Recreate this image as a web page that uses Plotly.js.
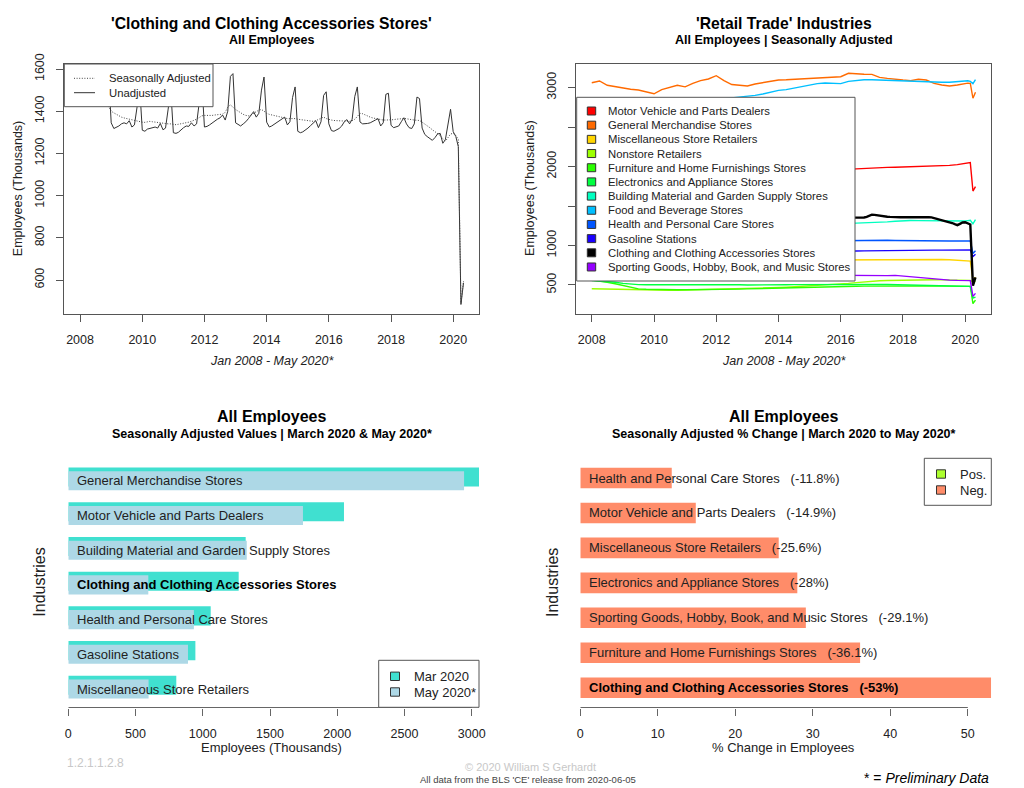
<!DOCTYPE html>
<html><head><meta charset="utf-8">
<script src="https://cdn.plot.ly/plotly-3.0.1.min.js"></script>
<style>html,body{margin:0;padding:0;background:#fff;}#chart{width:1024px;height:788px;}</style>
</head><body><div id="chart"></div>
<script>
// ---------- DATA ----------
// Top-left: Clothing and Clothing Accessories Stores, monthly Jan 2008 - May 2020 (thousands)
const clothingSA = [
1505,1503,1500,1497,1494,1490,1485,1478,1468,1455,1438,1422,
1400,1392,1385,1378,1372,1368,1365,1362,1358,1355,1352,1350,
1348,1347,1350,1352,1350,1348,1346,1345,1343,1342,1340,1340,
1338,1336,1338,1340,1342,1345,1348,1352,1356,1362,1370,1378,
1380,1380,1378,1380,1382,1383,1384,1386,1395,1420,1430,1418,
1408,1400,1392,1385,1380,1378,1382,1392,1398,1405,1408,1400,
1390,1385,1382,1380,1378,1375,1372,1368,1365,1365,1366,1365,
1362,1360,1358,1355,1353,1352,1352,1355,1360,1368,1372,1365,
1360,1358,1356,1355,1354,1353,1353,1352,1352,1355,1362,1375,
1390,1388,1382,1378,1372,1368,1365,1363,1360,1358,1358,1358,
1360,1360,1362,1362,1364,1366,1365,1363,1360,1358,1358,1356,
1348,1340,1332,1322,1312,1302,1295,1285,1270,1258,1275,1292,
1295,1285,1267,492,595];
const clothingNSA = [
1450,1442,1462,1472,1478,1480,1470,1488,1432,1436,1490,1570,
1345,1318,1322,1330,1340,1345,1340,1355,1325,1335,1420,1515,
1310,1305,1315,1318,1322,1325,1320,1342,1312,1320,1410,1505,
1298,1295,1300,1312,1322,1330,1328,1345,1330,1340,1440,1540,
1325,1328,1335,1345,1355,1362,1368,1382,1358,1400,1565,1578,
1345,1335,1330,1340,1350,1365,1380,1398,1372,1390,1500,1562,
1348,1325,1330,1338,1345,1355,1360,1372,1335,1350,1465,1515,
1305,1298,1302,1310,1320,1332,1342,1355,1322,1350,1475,1492,
1340,1308,1305,1310,1318,1330,1350,1360,1340,1362,1470,1515,
1349,1340,1340,1342,1345,1350,1358,1365,1330,1345,1480,1485,
1333,1322,1325,1330,1350,1369,1340,1322,1318,1340,1467,1460,
1320,1290,1280,1270,1262,1275,1292,1295,1248,1265,1350,1409,
1303,1280,1232,484,587];

// Top-right: retail trade industries, quarterly 2008-2019 then monthly Jan-May 2020
const retailIndustries = ['Motor Vehicle and Parts Dealers','General Merchandise Stores','Miscellaneous Store Retailers','Nonstore Retailers','Furniture and Home Furnishings Stores','Electronics and Appliance Stores','Building Material and Garden Supply Stores','Food and Beverage Stores','Health and Personal Care Stores','Gasoline Stations','Clothing and Clothing Accessories Stores','Sporting Goods, Hobby, Book, and Music Stores'];
const retailColors = ['#ff0000','#ff6a00','#ffd500','#9cff00','#2bff00','#00ff40','#00ffc0','#00bfff','#0055ff','#1a00ff','#000000','#9500ff'];
const motorVehicle = [1880,1860,1830,1780,1720,1670,1650,1640,1630,1640,1650,1660,1675,1690,1705,1715,1730,1745,1760,1775,1790,1805,1820,1840,1855,1870,1885,1900,1915,1930,1945,1955,1962,1968,1975,1980,1985,1988,1990,1992,1995,1998,2000,2002,2005,2010,2015,2025,2045,2052,2050,1690,1745];
const generalMerch = [3063,3085,3030,3010,2992,2980,2971,2950,2923,2975,3000,3030,3010,3055,3089,3110,3152,3090,3040,3030,3021,3047,3063,3080,3097,3100,3106,3112,3118,3125,3131,3135,3139,3182,3173,3170,3169,3131,3118,3105,3097,3089,3106,3097,3055,3034,3021,3034,3055,3058,3054,2866,2943];
const miscStore = [850,845,838,830,815,805,798,795,792,790,790,790,790,792,794,795,796,797,798,800,802,804,806,808,810,812,813,814,815,816,817,818,819,820,820,821,822,823,824,825,826,827,827,826,825,823,820,816,812,808,803,560,597];
const nonstore = [452,450,448,445,440,436,433,432,432,432,433,434,436,438,440,442,444,446,448,451,454,457,460,464,468,472,477,482,487,492,498,505,512,520,530,540,548,553,557,560,562,564,565,566,566,565,564,563,562,561,558,540,545];
const furniture = [562,550,535,515,490,465,450,445,442,440,440,440,440,440,441,442,443,444,446,448,450,453,456,459,462,465,468,470,472,474,476,478,480,482,484,486,487,488,489,490,490,490,489,488,487,485,484,483,483,482,482,265,308];
const electronics = [556,552,545,535,520,510,505,503,503,504,505,506,508,510,510,509,508,506,504,502,500,499,499,500,502,503,505,506,507,508,509,510,511,512,512,511,510,508,506,504,502,500,498,496,494,492,490,488,486,485,482,335,347];
const buildingMat = [1260,1245,1225,1200,1170,1150,1140,1135,1135,1140,1140,1142,1145,1148,1150,1152,1155,1160,1165,1170,1180,1190,1200,1210,1220,1230,1240,1248,1255,1262,1268,1272,1275,1276,1277,1280,1285,1292,1300,1308,1315,1317,1316,1314,1310,1308,1306,1305,1310,1315,1319,1275,1327];
const foodBev = [2840,2835,2825,2815,2805,2800,2795,2790,2790,2795,2800,2805,2810,2820,2830,2840,2850,2860,2870,2881,2890,2903,2920,2941,2966,2975,2996,3008,3030,3051,3059,3059,3051,3080,3093,3101,3101,3097,3093,3086,3080,3078,3076,3072,3068,3068,3068,3080,3089,3087,3080,3051,3101];
const healthCare = [1010,1008,1005,1000,995,990,987,985,983,982,982,983,985,988,990,993,996,1000,1003,1006,1010,1015,1020,1025,1030,1035,1040,1045,1048,1052,1055,1058,1060,1062,1063,1064,1066,1067,1066,1064,1062,1060,1058,1057,1056,1056,1057,1058,1059,1060,1059,900,934];
const gasoline = [840,838,835,832,828,825,822,820,820,821,822,824,826,829,832,835,838,842,846,850,855,860,866,872,878,884,890,896,902,908,914,920,924,927,930,932,934,935,936,937,938,938,939,940,941,942,943,944,946,947,945,860,890];
const sporting = [650,648,645,640,630,622,615,610,608,607,607,608,610,612,614,616,618,620,622,624,625,626,627,628,628,628,627,626,625,624,622,620,619,618,617,616,616,617,618,622,612,605,600,590,575,566,562,558,556,556,555,355,393];

// Bottom-left: values Mar 2020 & May 2020 (top to bottom)
const valueIndustries = ['General Merchandise Stores','Motor Vehicle and Parts Dealers','Building Material and Garden Supply Stores','Clothing and Clothing Accessories Stores','Health and Personal Care Stores','Gasoline Stations','Miscellaneous Store Retailers'];
const mar2020 = [3054,2050,1319,1267,1059,945,803];
const may2020 = [2943,1745,1327,595,934,890,597];

// Bottom-right: % change Mar->May 2020 (top to bottom)
const pctIndustries = ['Health and Personal Care Stores','Motor Vehicle and Parts Dealers','Miscellaneous Store Retailers','Electronics and Appliance Stores','Sporting Goods, Hobby, Book, and Music Stores','Furniture and Home Furnishings Stores','Clothing and Clothing Accessories Stores'];
const pctChange = [-11.8,-14.9,-25.6,-28,-29.1,-36.1,-53];

const yearTicks = [2008,2010,2012,2014,2016,2018,2020];
const tlYTicks = [600,800,1000,1200,1400,1600];
const trYTicks = [500,1000,1500,2000,2500,3000];
const trYText = ['500','1000','','2000','','3000'];
const blXTicks = [0,500,1000,1500,2000,2500,3000];
const brXTicks = [0,10,20,30,40,50];
const highlight = 'Clothing and Clothing Accessories Stores';

// ---------- DATES ----------
const pad = n => (n < 10 ? '0' : '') + n;
const monthDates = [];
for (let y = 2008; y <= 2020; y++) for (let m = 1; m <= 12; m++) { if (y === 2020 && m > 5) break; monthDates.push(y + '-' + pad(m) + '-01'); }
const retailDates = [];
for (let y = 2008; y <= 2019; y++) for (const m of [1,4,7,10]) retailDates.push(y + '-' + pad(m) + '-01');
for (let m = 1; m <= 5; m++) retailDates.push('2020-' + pad(m) + '-01');

const retailSeries = [motorVehicle, generalMerch, miscStore, nonstore, furniture, electronics, buildingMat, foodBev, healthCare, gasoline, null, sporting];

// ---------- LAYOUT HELPERS ----------
const W = 1024, H = 788;
const fx = v => v / W, fy = v => 1 - v / H;
const FONT = 'Liberation Sans, Arial, Helvetica, sans-serif';
const TXT = '#222';
const BOX = '#555';
const DOTS = '1px,1.6px';

const traces = [];
traces.push({x: monthDates, y: clothingNSA, type: 'scatter', mode: 'lines', line: {color: '#333', width: 1}, xaxis: 'x', yaxis: 'y', hoverinfo: 'skip'});
traces.push({x: monthDates, y: clothingSA, type: 'scatter', mode: 'lines', line: {color: '#444', width: 1, dash: DOTS}, xaxis: 'x', yaxis: 'y', hoverinfo: 'skip'});

retailIndustries.forEach((name, i) => {
  const isC = name === highlight;
  traces.push({x: isC ? monthDates : retailDates, y: isC ? clothingSA : retailSeries[i], type: 'scatter', mode: 'lines',
    line: {color: retailColors[i], width: isC ? 2.4 : 1.4}, xaxis: 'x2', yaxis: 'y2', hoverinfo: 'skip', name: name});
});

const valCats = valueIndustries.slice().reverse();
const pctCats = pctIndustries.slice().reverse();
traces.push({type: 'bar', orientation: 'h', y: valueIndustries, x: mar2020, marker: {color: '#40E0D0', line: {width: 0}}, width: 0.55, offset: -0.168, xaxis: 'x3', yaxis: 'y3', hoverinfo: 'skip'});
traces.push({type: 'bar', orientation: 'h', y: valueIndustries, x: may2020, marker: {color: '#ADD8E6', line: {width: 0}}, width: 0.55, offset: -0.275, xaxis: 'x3', yaxis: 'y3', hoverinfo: 'skip'});
traces.push({type: 'bar', orientation: 'h', y: pctIndustries, x: pctChange.map(Math.abs), marker: {color: pctChange.map(v => v >= 0 ? '#ADFF2F' : '#FF8C69'), line: {width: 0}}, width: 0.59, offset: -0.295, xaxis: 'x4', yaxis: 'y4', hoverinfo: 'skip'});

const dateTickVals = yearTicks.map(y => y + '-01-01');
const topY = [fy(313.7), fy(64)];
const botY = [fy(707.5), fy(458.3)];
const tickFont = {family: FONT, size: 12.5, color: TXT};

const boxAxis = {showline: true, mirror: true, linecolor: BOX, linewidth: 1, ticks: 'outside', ticklen: 7, tickcolor: BOX, showgrid: false, zeroline: false, tickfont: tickFont, ticklabelstandoff: 7, fixedrange: true};

const layout = {
  width: W, height: H, margin: {l: 0, r: 0, t: 0, b: 0}, paper_bgcolor: '#fff', plot_bgcolor: '#fff',
  showlegend: false, barmode: 'overlay', font: {family: FONT, color: TXT},
  xaxis: Object.assign({}, boxAxis, {domain: [fx(64.3), fx(479)], anchor: 'y', type: 'date', range: ['2007-06-30', '2020-10-30'], tickvals: dateTickVals, ticktext: yearTicks.map(String)}),
  yaxis: Object.assign({}, boxAxis, {domain: topY, anchor: 'x', range: [440.3, 1623.7], tickvals: tlYTicks, ticktext: tlYTicks.map(String), tickangle: -90}),
  xaxis2: Object.assign({}, boxAxis, {domain: [fx(576), fx(991)], anchor: 'y2', type: 'date', range: ['2007-06-30', '2020-10-30'], tickvals: dateTickVals, ticktext: yearTicks.map(String)}),
  yaxis2: Object.assign({}, boxAxis, {domain: topY, anchor: 'x2', range: [136, 3300], tickvals: trYTicks, ticktext: trYText, tickangle: -90}),
  xaxis3: {domain: [fx(68.3), fx(479)], anchor: 'y3', range: [0, 3054], tickvals: blXTicks, ticktext: blXTicks.map(String), ticks: 'outside', ticklen: 7, tickcolor: '#666', showline: false, showgrid: false, zeroline: false, tickfont: tickFont, ticklabelstandoff: 7, fixedrange: true},
  yaxis3: {domain: botY, anchor: 'x3', type: 'category', categoryorder: 'array', categoryarray: valCats, range: [-0.533, 6.648], showticklabels: false, showline: false, showgrid: false, zeroline: false, ticks: '', fixedrange: true},
  xaxis4: {domain: [fx(580.3), fx(991.3)], anchor: 'y4', range: [0, 53.03], tickvals: brXTicks, ticktext: brXTicks.map(String), ticks: 'outside', ticklen: 7, tickcolor: '#666', showline: false, showgrid: false, zeroline: false, tickfont: tickFont, ticklabelstandoff: 7, fixedrange: true},
  yaxis4: {domain: botY, anchor: 'x4', type: 'category', categoryorder: 'array', categoryarray: pctCats, range: [-0.567, 6.564], showticklabels: false, showline: false, showgrid: false, zeroline: false, ticks: '', fixedrange: true},
  shapes: [], annotations: []
};

const A = layout.annotations, S = layout.shapes;
function txt(text, x, y, o) {
  o = o || {};
  A.push({xref: 'paper', yref: 'paper', x: fx(x), y: fy(y), text: text, showarrow: false,
    xanchor: o.xa || 'center', yanchor: 'middle', textangle: o.angle || 0,
    font: {family: FONT, size: o.size || 12.5, color: o.color || TXT}});
}
function rect(x0, y0, x1, y1, fill, line) {
  S.push({type: 'rect', xref: 'paper', yref: 'paper', x0: fx(x0), x1: fx(x1), y0: fy(y1), y1: fy(y0), fillcolor: fill, line: {color: line || BOX, width: 1}, layer: 'above'});
}
function hline(x0, x1, y, dash, color) {
  S.push({type: 'line', xref: 'paper', yref: 'paper', x0: fx(x0), x1: fx(x1), y0: fy(y), y1: fy(y), line: {color: color || '#333', width: 1, dash: dash || 'solid'}, layer: 'above'});
}

// Titles
txt("<b>'Clothing and Clothing Accessories Stores'</b>", 271.7, 23.3, {size: 15.7, color: '#000'});
txt('<b>All Employees</b>', 271.7, 39.5, {size: 12.5, color: '#000'});
txt("<b>'Retail Trade' Industries</b>", 783.5, 23.3, {size: 15.7, color: '#000'});
txt('<b>All Employees | Seasonally Adjusted</b>', 783.5, 39.5, {size: 12.5, color: '#000'});
txt('<b>All Employees</b>', 271.7, 416.7, {size: 16, color: '#000'});
txt('<b>Seasonally Adjusted Values | March 2020 &amp; May 2020*</b>', 271.7, 433.5, {size: 12.5, color: '#000'});
txt('<b>All Employees</b>', 783.5, 416.7, {size: 16, color: '#000'});
txt('<b>Seasonally Adjusted % Change | March 2020 to May 2020*</b>', 783.5, 433.5, {size: 12.5, color: '#000'});

// Axis titles
txt('<i>Jan 2008 - May 2020*</i>', 271.7, 360.7, {size: 12.5});
txt('<i>Jan 2008 - May 2020*</i>', 783.5, 360.7, {size: 12.5});
txt('Employees (Thousands)', 18.3, 188.9, {size: 12.5, angle: -90});
txt('Employees (Thousands)', 530, 188.9, {size: 12.5, angle: -90});
txt('Employees (Thousands)', 271.7, 747.7, {size: 13});
txt('% Change in Employees', 783.5, 747.7, {size: 13});
txt('Industries', 40, 582.7, {size: 16, angle: -90});
txt('Industries', 552.3, 582.7, {size: 16, angle: -90});

// Bottom axis lines (first to last tick)
S.push({type: 'line', xref: 'x3', yref: 'paper', x0: blXTicks[0], x1: blXTicks[blXTicks.length - 1], y0: botY[0], y1: botY[0], line: {color: '#666', width: 1}});
S.push({type: 'line', xref: 'x4', yref: 'paper', x0: brXTicks[0], x1: brXTicks[brXTicks.length - 1], y0: botY[0], y1: botY[0], line: {color: '#666', width: 1}});

// Bar labels
valueIndustries.forEach(name => {
  const bold = name === highlight;
  A.push({xref: 'x3', yref: 'y3', x: 0, y: valCats.indexOf(name), xanchor: 'left', yanchor: 'middle', xshift: 6.2, showarrow: false,
    text: bold ? '<b>' + name + '</b>' : name, font: {family: FONT, size: 13, color: bold ? '#000' : TXT}});
});
const sp = '\u00a0\u00a0\u00a0';
pctIndustries.forEach((name, i) => {
  const bold = name === highlight;
  const t = name + sp + '(' + pctChange[i] + '%)';
  A.push({xref: 'x4', yref: 'y4', x: 0, y: pctCats.indexOf(name), xanchor: 'left', yanchor: 'middle', xshift: 6.2, showarrow: false,
    text: bold ? '<b>' + t + '</b>' : t, font: {family: FONT, size: 13, color: bold ? '#000' : TXT}});
});

// Legend: top-left
rect(64.3, 64, 213, 106.7, '#fff');
hline(74, 95, 78.3, DOTS, '#444');
hline(74, 95, 92.7, 'solid', '#333');
txt('Seasonally Adjusted', 106.7, 78.3, {xa: 'left', size: 11.3});
txt('Unadjusted', 106.7, 92.7, {xa: 'left', size: 11.3});

// Legend: top-right
rect(576.7, 97.3, 855, 281, '#fff');
retailIndustries.forEach((name, i) => {
  const yc = 111 + i * 14.18;
  rect(587.3, yc - 4, 595.7, yc + 4, retailColors[i], '#333');
  txt(name, 606, yc, {xa: 'left', size: 11.3});
});

// Legend: bottom-left
rect(378.7, 660.3, 479, 707.3, '#fff');
[['Mar 2020', '#40E0D0', 676.3], ['May 2020*', '#ADD8E6', 692]].forEach(e => {
  rect(390.5, e[2] - 4.2, 399.5, e[2] + 4.2, e[1], '#333');
  txt(e[0], 412.3, e[2], {xa: 'left', size: 13});
});

// Legend: bottom-right
rect(924.3, 458.3, 991.3, 505.3, '#fff');
[['Pos.', '#ADFF2F', 474], ['Neg.', '#FF8C69', 490]].forEach(e => {
  rect(936.5, e[2] - 4.2, 945.5, e[2] + 4.2, e[1], '#333');
  txt(e[0], 957.7, e[2], {xa: 'left', size: 13});
});

// Footer
txt('1.2.1.1.2.8', 65, 762.7, {xa: 'left', size: 12, color: '#c8c8c8'});
txt('\u00a9 2020 William S Gerhardt', 530, 766.7, {size: 11, color: '#c8c8c8'});
txt("All data from the BLS 'CE' release from 2020-06-05", 528, 779.5, {size: 9.5, color: '#444'});
A.push({xref: 'paper', yref: 'paper', x: fx(991), y: fy(778.3), xanchor: 'right', yanchor: 'middle', showarrow: false,
  text: '* = <i>Preliminary Data</i>', font: {family: FONT, size: 14, color: '#000'}});

Plotly.newPlot('chart', traces, layout, {displayModeBar: false, staticPlot: true});
</script></body></html>
